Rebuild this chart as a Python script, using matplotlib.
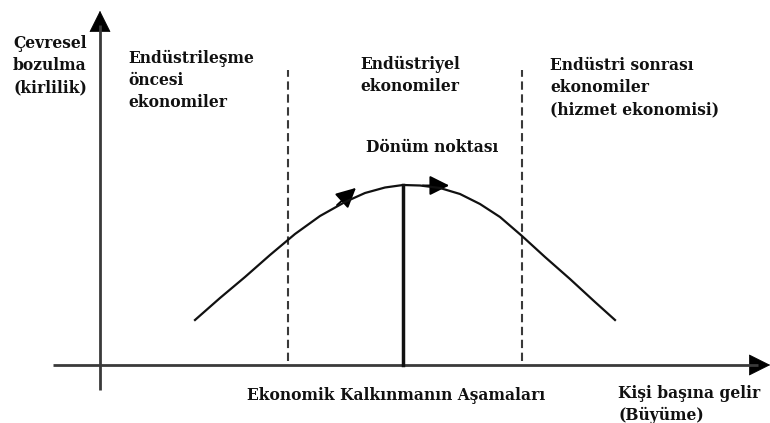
import matplotlib.pyplot as plt
from matplotlib.patches import FancyArrowPatch

# Kuznets curve (income on x, degradation on y)
income = [9.5, 12.0, 14.5, 17.0, 19.5, 22.0, 24.5, 26.5, 28.5, 30.3,
          32.0, 34.0, 36.0, 38.0, 40.0, 42.2, 44.5, 47.0, 49.5, 51.5]
degradation = [4.5, 6.7, 8.8, 11.0, 13.1, 14.9, 16.3, 17.2, 17.75, 18.0,
               17.95, 17.7, 17.1, 16.1, 14.8, 12.9, 10.8, 8.6, 6.3, 4.5]

stage_bounds = [18.8, 42.2]      # dashed separators between stages
turning_point = (30.3, 18.0)
# direction arrows sitting on the curve: (start, tip)
curve_arrows = [((23.5, 15.8), (25.8, 17.9)), ((32.0, 17.95), (35.2, 17.95))]

stage_labels = ["Endüstrileşme\nöncesi\nekonomiler",
                "Endüstriyel\nekonomiler",
                "Endüstri sonrası\nekonomiler\n(hizmet ekonomisi)"]
stage_label_pos = [(2.8, 31.55), (26.0, 30.95), (45.0, 30.75)]

ylabel = "Çevresel\nbozulma\n(kirlilik)"
xlabel = "Kişi başına gelir\n(Büyüme)"
stages_title = "Ekonomik Kalkınmanın Aşamaları"
turning_label = "Dönüm noktası"

ink = "#111111"
axis_grey = "#3a3a3a"
font = dict(family="DejaVu Serif", fontweight="bold", fontsize=11.2,
            color=ink, linespacing=1.38)

fig = plt.figure(figsize=(7.7, 4.23), dpi=100)
ax = fig.add_axes([0, 0, 1, 1])
ax.set_xlim(-10, 67)
ax.set_ylim(-5.8, 36.5)
ax.axis("off")

# axes: grey shafts, black arrow heads
ax.plot([0, 0], [-2.5, 34.0], lw=2.0, color=axis_grey, solid_capstyle="butt")
ax.plot([-4.7, 65.8], [0, 0], lw=2.0, color=axis_grey, solid_capstyle="butt")
head = "-|>,head_length=0.72,head_width=0.36"
ax.add_patch(FancyArrowPatch((0, 33.0), (0, 35.7), arrowstyle=head,
                             mutation_scale=20, lw=0.5, color="black"))
ax.add_patch(FancyArrowPatch((65.0, 0), (67.3, 0), arrowstyle=head,
                             mutation_scale=20, lw=0.5, color="black"))

for xb in stage_bounds:
    ax.plot([xb, xb], [0.4, 29.5], ls=(0, (4, 2.2)), lw=1.5, color=axis_grey)

ax.plot([turning_point[0]] * 2, [0, turning_point[1]], lw=2.5, color=ink)
ax.plot(income, degradation, lw=1.6, color=ink, solid_joinstyle="round")

for start, end in curve_arrows:
    ax.add_patch(FancyArrowPatch(start, end,
                                 arrowstyle="-|>,head_length=0.6,head_width=0.3",
                                 mutation_scale=20, lw=1.4, color="black"))

ax.text(-8.7, 33.0, ylabel, va="top", ha="left", **font)
for txt, (x, y) in zip(stage_labels, stage_label_pos):
    ax.text(x, y, txt, va="top", ha="left", **font)
ax.text(26.6, 21.8, turning_label, va="center", ha="left", **font)
ax.text(14.7, -3.0, stages_title, va="center", ha="left", **font)
ax.text(51.8, -1.95, xlabel, va="top", ha="left", **font)

plt.savefig("out.png", dpi=100)
